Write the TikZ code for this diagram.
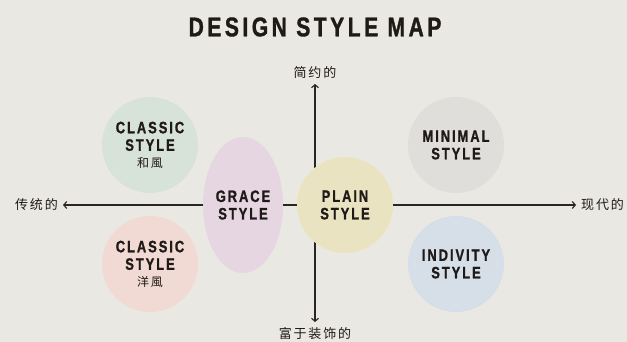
\documentclass[tikz,border=0pt]{standalone}
\usepackage{fontspec}
\usetikzlibrary{arrows.meta,shapes.geometric}
\newfontfamily\capsfont[FakeStretch=0.78,LetterSpace=12,BoldFeatures={FakeBold=1.2}]{Liberation Sans}
\newfontfamily\titlefont[FakeStretch=0.78,LetterSpace=13,BoldFeatures={FakeBold=1.2}]{Liberation Sans}
\newfontfamily\cjkfont[LetterSpace=14]{Noto Sans CJK SC}
\definecolor{bgA}{HTML}{EAE8E3}
\definecolor{ink}{HTML}{1F1A17}
\definecolor{axisline}{HTML}{2B2521}
\definecolor{cPlain}{HTML}{EAE3C1}
\definecolor{cGrace}{HTML}{E5D6E1}
\definecolor{cWafu}{HTML}{D7E3D8}
\definecolor{cYofu}{HTML}{F1D9D4}
\definecolor{cMinimal}{HTML}{DFDEDB}
\definecolor{cIndivity}{HTML}{D6DEE7}

\begin{document}
\begin{tikzpicture}[x=1pt,y=-1pt,
    blob/.style={circle,draw=none,minimum size=96pt,inner sep=0pt,align=center,
      text=ink,font=\capsfont\bfseries\fontsize{16.5}{17.5}\selectfont},
    sidelbl/.style={text=ink,inner sep=5pt,font=\cjkfont\fontsize{13}{13}\selectfont},
    axis/.style={axisline,line width=1.1pt,{Straight Barb[length=3pt,width=7pt]}-{Straight Barb[length=3pt,width=7pt]}}]

  \fill[bgA] (0,0) rectangle (627,342);
  \useasboundingbox (0,0) rectangle (627,342);

  \node[text=ink,font=\titlefont\bfseries\fontsize{27}{27}\selectfont] (title) at (315,27) {DESIGN STYLE MAP};

  % axis ends
  \node[sidelbl,anchor=east] (trad) at (63,205) {传统的};
  \node[sidelbl,anchor=west] (modern) at (576,205) {现代的};
  \node[sidelbl,anchor=south] (simple) at (315,84) {简约的};
  \node[sidelbl,anchor=north] (ornate) at (315,322) {富于装饰的};

  \draw[axis] (trad) -- (modern);
  \draw[axis] (simple) -- (ornate);

  % styles on the map
  \node[blob,fill=cWafu] (wafu) at (150,145) {CLASSIC\\STYLE\\[-1pt]{\cjkfont\mdseries\fontsize{12}{12}\selectfont 和風}};
  \node[blob,fill=cYofu] (yofu) at (150,264) {CLASSIC\\STYLE\\[-1pt]{\cjkfont\mdseries\fontsize{12}{12}\selectfont 洋風}};
  \node[blob,ellipse,fill=cGrace,minimum width=80pt,minimum height=136pt] (grace) at (243,205) {GRACE\\STYLE};
  \node[blob,fill=cPlain] (plain) at (345,205) {PLAIN\\STYLE};
  \node[blob,fill=cMinimal] (minimal) at (456,145) {MINIMAL\\STYLE};
  \node[blob,fill=cIndivity] (indivity) at (456,264) {INDIVITY\\STYLE};

\end{tikzpicture}
\end{document}
